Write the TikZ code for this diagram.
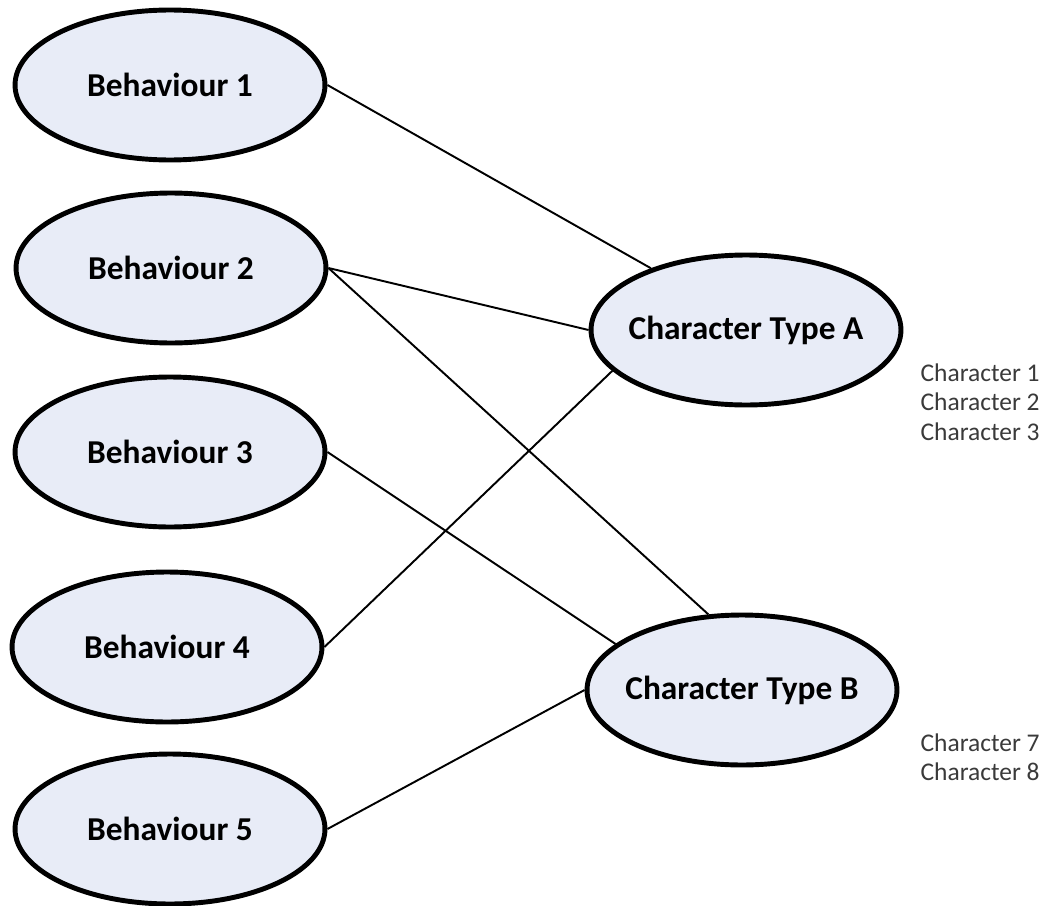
\documentclass[tikz,border=0pt]{standalone}
\usepackage{fontspec}
\setmainfont{Carlito}
\usetikzlibrary{shapes}
\definecolor{bubblefill}{RGB}{232,236,247}
\definecolor{listgray}{RGB}{58,58,58}
\tikzset{
  all/.style  = {align=center},
  basic/.style  = {all, draw, ellipse, line width=2.8pt, fill=bubblefill,
                   inner ysep=0pt, inner xsep=-1cm,
                   minimum width=6.2cm, minimum height=3.0cm,
                   font=\bfseries\fontsize{19}{23}\selectfont},
  behaviour/.style = {basic},
  chartype/.style = {basic},
  members/.style = {all, align=right, anchor=north east, text=listgray,
                    font=\fontsize{14.5}{17}\selectfont, inner sep=0pt},
  link/.style = {line width=1.1pt}
}

\begin{document}
\begin{tikzpicture}[x=0.02cm, y=-0.02cm]
\useasboundingbox (0,0) rectangle (1045,906);
% behaviours on the left
\node[behaviour] (b1) at (170,85)  {Behaviour 1};
\node[behaviour] (b2) at (171,268) {Behaviour 2};
\node[behaviour] (b3) at (170,452) {Behaviour 3};
\node[behaviour] (b4) at (167,647) {Behaviour 4};
\node[behaviour] (b5) at (170,829) {Behaviour 5};
% character types on the right
\node[chartype] (ctA) at (746,330) {Character Type A};
\node[chartype] (ctB) at (742,690) {Character Type B};
% characters of each type
\node[members] (listA) at (1040,363) {Character 1\\Character 2\\Character 3};
\node[members] (listB) at (1040,733) {Character 7\\Character 8};

\draw[link] (b1.east) -- (ctA.147);
\draw[link] (b2.east) -- (ctA.west);
\draw[link] (b2.east) -- (ctB.114);
\draw[link] (b3.east) -- (ctB.160);
\draw[link] (b4.east) -- (ctA.197);
\draw[link] (b5.east) -- (ctB.west);
\end{tikzpicture}
\end{document}
